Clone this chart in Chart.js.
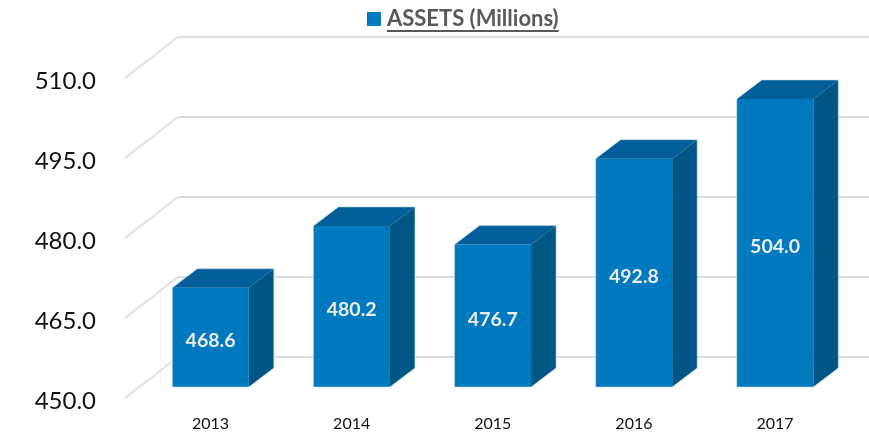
<!DOCTYPE html>
<html><head><meta charset="utf-8">
<script src="https://cdn.jsdelivr.net/npm/chart.js@4"></script>
<style>html,body{margin:0;padding:0;background:#fff}canvas{display:block}</style>
</head><body><canvas id="c" width="869" height="434"></canvas>
<script>
const categories = ["2013","2014","2015","2016","2017"];
const assets = [468.6,480.2,476.7,492.8,504.0];
const yTicks = [450,465,480,495,510];
const seriesName = "ASSETS (Millions)";

const FRONT="#0079BE", TOP="#005F98", SIDE="#005786", EDGE="rgba(190,215,232,0.55)";
const bar3d = {
  id:"bar3d",
  afterUpdate(chart){
    const lg=chart.legend, h0=lg.height;
    lg.left+=40; lg.right+=40; lg.adjustHitBoxes();
    lg.top=-2; lg.bottom=lg.top+h0;
  },
  beforeDatasetsDraw(chart){
    const {ctx,chartArea:a,scales:{y}}=chart;
    ctx.save();
    yTicks.forEach((v,i)=>{
      const p=y.getPixelForValue(v), last=i===yTicks.length-1;
      ctx.strokeStyle="#dddddd"; ctx.lineWidth=1.6;
      ctx.beginPath(); ctx.moveTo(a.left-15,p+11); ctx.lineTo(a.left+38,p-30); ctx.stroke();
      ctx.strokeStyle=last?"#e2e2e2":"#cfcfcf"; ctx.lineWidth=last?2.4:1.6;
      ctx.beginPath(); ctx.moveTo(a.left+38,p-30); ctx.lineTo(chart.width,p-30); ctx.stroke();
    });
    ctx.restore();
  },
  afterDatasetsDraw(chart){
    const {ctx}=chart, dx=25, dy=-19;
    const meta=chart.getDatasetMeta(0);
    ctx.save();
    meta.data.forEach((b,i)=>{
      const l=b.x-b.width/2, r=b.x+b.width/2, t=b.y, bt=b.base;
      ctx.fillStyle=TOP; ctx.beginPath();
      ctx.moveTo(l,t); ctx.lineTo(l+dx,t+dy); ctx.lineTo(r+dx,t+dy); ctx.lineTo(r,t); ctx.closePath(); ctx.fill();
      ctx.fillStyle=SIDE; ctx.beginPath();
      ctx.moveTo(r,t); ctx.lineTo(r+dx,t+dy); ctx.lineTo(r+dx,bt+dy); ctx.lineTo(r,bt); ctx.closePath(); ctx.fill();
      ctx.strokeStyle=EDGE; ctx.lineWidth=1; ctx.beginPath();
      ctx.moveTo(l,bt); ctx.lineTo(l,t); ctx.lineTo(l+dx,t+dy); ctx.lineTo(r+dx,t+dy); ctx.lineTo(r+dx,bt+dy); ctx.lineTo(r,bt); ctx.closePath(); ctx.stroke();
      ctx.fillStyle="#ececec"; ctx.font="bold 19.5px Lato"; ctx.textAlign="center"; ctx.textBaseline="middle";
      ctx.fillText(assets[i].toFixed(1), b.x, (t+bt)/2+3.5);
    });
    ctx.restore();
  },
  afterDraw(chart){
    const {ctx,legend}=chart, h=legend.legendHitBoxes[0];
    ctx.save();
    ctx.fillStyle=FRONT; ctx.fillRect(h.left+8.5,legend.top+14,5.5,14);
    ctx.strokeStyle="#595959"; ctx.lineWidth=2;
    ctx.beginPath(); ctx.moveTo(h.left+20,31); ctx.lineTo(h.left+h.width,31); ctx.stroke();
    ctx.restore();
  }
};

new Chart(document.getElementById("c"),{
  type:"bar",
  data:{labels:categories,datasets:[{label:seriesName,data:assets,base:yTicks[0],backgroundColor:FRONT,borderWidth:0,barPercentage:0.542,categoryPercentage:1}]},
  plugins:[bar3d],
  options:{
    responsive:false,animation:false,
    layout:{padding:{left:0,right:23.4,top:0,bottom:0}},
    plugins:{
      tooltip:{enabled:false},
      legend:{position:"top",labels:{boxWidth:9,boxHeight:14,padding:10,color:"#595959",font:{family:"Lato",size:22,weight:"bold"}}}
    },
    scales:{
      x:{grid:{display:false,drawTicks:false},border:{display:false},
         ticks:{padding:27,color:"#111",font:{family:"Lato",size:16},maxRotation:0},
         afterFit(s){s.height=47;}},
      y:{min:450,max:510,grid:{display:false,drawTicks:false},border:{display:false},
         afterBuildTicks(s){s.ticks=yTicks.map(v=>({value:v}));},
         ticks:{padding:44,labelOffset:14,color:"#111",font:{family:"Lato",size:24},callback:v=>v.toFixed(1)},
         afterFit(s){s.width=140;s.paddingTop=67;s.paddingBottom=0;}}
    }
  }
});
</script></body></html>
